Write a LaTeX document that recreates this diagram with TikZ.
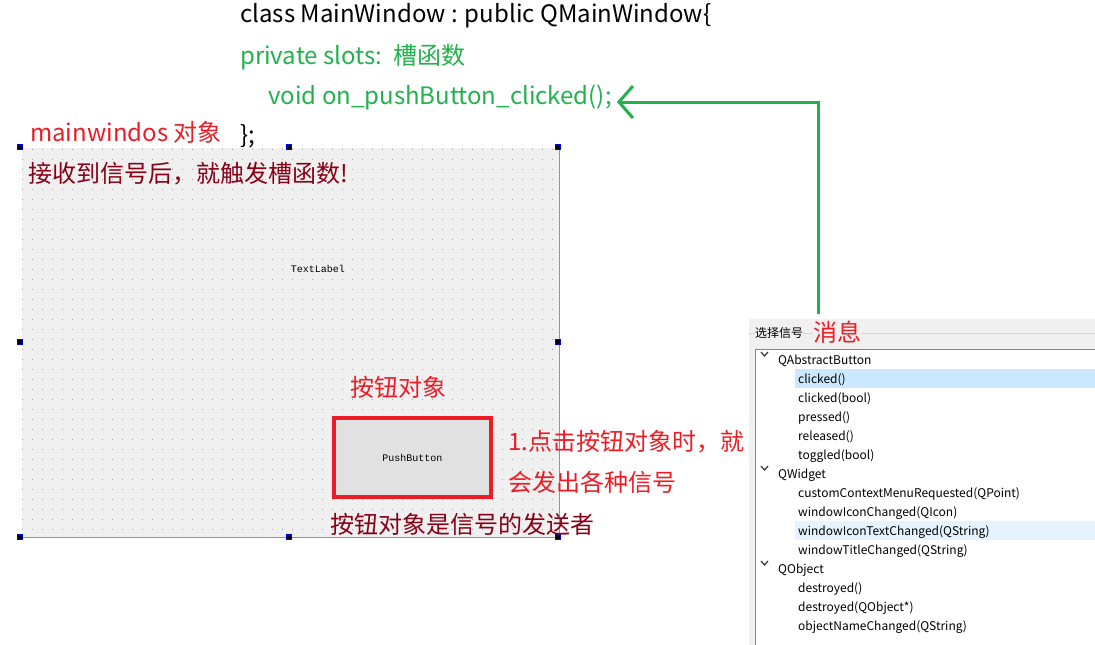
\documentclass[tikz,border=0pt]{standalone}
\usepackage{fontspec}
\setmainfont{Noto Sans CJK SC}
\newfontfamily\monofont{Liberation Mono}
\usepackage{xcolor}
\usepackage{tikz}
\usetikzlibrary{arrows.meta, positioning, calc}
\definecolor{QtGreen}{RGB}{34, 177, 76}
\definecolor{QtRed}{RGB}{237, 28, 36}
\definecolor{QtDarkRed}{RGB}{136, 0, 21}
\definecolor{QtForm}{RGB}{240, 240, 240}
\definecolor{QtDot}{RGB}{165, 165, 165}
\definecolor{QtButton}{RGB}{225, 225, 225}
\definecolor{QtSelect}{RGB}{204, 232, 255}
\definecolor{QtHover}{RGB}{229, 243, 255}
\definecolor{QtBorder}{RGB}{130, 135, 144}
\definecolor{QtLine}{RGB}{215, 215, 215}
\definecolor{QtHandle}{RGB}{0, 0, 230}

\tikzset{
  txt/.style={anchor=base west, inner sep=0pt},
  big/.style={txt, font=\fontsize{24}{28}\selectfont},
  small/.style={txt, font=\fontsize{12}{14}\selectfont},
  mono/.style={inner sep=0pt, font=\monofont\fontsize{10}{12}\selectfont},
  handle/.style={fill=black, draw=QtHandle, line width=1pt, minimum size=5pt, inner sep=0pt},
  griddot/.style={QtDot, line width=1pt, dash pattern=on 1pt off 9pt},
  sigarrow/.style={QtGreen, line width=3pt, -{Straight Barb[length=14pt, width=32pt, line width=3pt]}},
}

\begin{document}
\begin{tikzpicture}[x=1pt, y=-1pt]
    \path[use as bounding box, fill=white] (0,0) rectangle (1095,645);

    % the designer form
    \fill[QtForm] (22,148) rectangle (559,537);
    \foreach \x in {22,32,...,552}
      \draw[griddot] (\x+0.5,148.5) -- (\x+0.5,537);
    \draw[QtDot!90!black] (559,148) -- (559,537) -- (22,537);
    \foreach \hx/\hy [count=\n] in {20/147, 289/147, 558/147, 20/342, 558/342, 20/537, 289/537, 558/537}
      \node[handle] (h\n) at (\hx,\hy) {};

    % class declaration
    \node[big] (decl) at (240,23) {class MainWindow : public QMainWindow\{};
    \node[big, QtGreen] (slots) at (240,64) {private slots:\ \ 槽函数};
    \node[big, QtGreen] (slot) at (268,104) {void on\_pushButton\_clicked();};
    \node[big] (close) at (240,143) {\};};

    % notes on the form
    \node[big, QtRed] (mainobj) at (30,141) {mainwindos 对象};
    \node[big, QtDarkRed] (receiver) at (28,182) {接收到信号后，就触发槽函数!};
    \node[mono] (label) at (318,269) {TextLabel};
    \node[big, QtRed] (btnobj) at (350,396) {按钮对象};
    \node[draw=QtRed, fill=QtButton, line width=4pt, minimum width=157pt, minimum height=79pt,
          inner sep=0pt, mono] (button) at (412.5,457.5) {PushButton};
    \node[big, QtRed] (click1) at (508,450) {1.点击按钮对象时，就};
    \node[big, QtRed] (click2) at (508,491) {会发出各种信号};
    \node[big, QtDarkRed] (sender) at (330,533) {按钮对象是信号的发送者};

    % signal chooser
    \fill[QtForm] (749,319) rectangle (1095,645);
    \draw[QtLine] (749,333.5) -- (1095,333.5);
    \node[small, fill=QtForm, inner xsep=0pt] (chooser) at (755,337) {选择信号};
    \node[big, QtRed, fill=QtForm] (msg) at (813,341) {消息};
    \filldraw[fill=white, draw=QtBorder] (755.5,349.5) rectangle (1100,650);
    \fill[QtSelect] (795,369) rectangle (1095,388);
    \fill[QtHover] (795,521) rectangle (1095,540);
    \foreach \k/\grp in {0/QAbstractButton, 6/QWidget, 11/QObject} {
      \draw[black!75, line width=1.3pt] (761,352+19*\k) -- (764.5,356+19*\k) -- (768,352+19*\k);
      \node[small] (grp\k) at (778,364+19*\k) {\grp};
    }
    \foreach \k/\sig in {1/clicked(), 2/clicked(bool), 3/pressed(), 4/released(), 5/toggled(bool),
        7/customContextMenuRequested(QPoint), 8/windowIconChanged(QIcon),
        9/windowIconTextChanged(QString), 10/windowTitleChanged(QString),
        12/destroyed(), 13/destroyed(QObject*), 14/objectNameChanged(QString)}
      \node[small] (sig\k) at (798,364+19*\k) {\sig};

    % signal goes to the slot
    \coordinate (sigtop) at (818,314);
    \coordinate (slotend) at ([shift={(5,-2)}]slot.base east);
    \draw[sigarrow] (sigtop) |- (slotend);
  \end{tikzpicture}
\end{document}
